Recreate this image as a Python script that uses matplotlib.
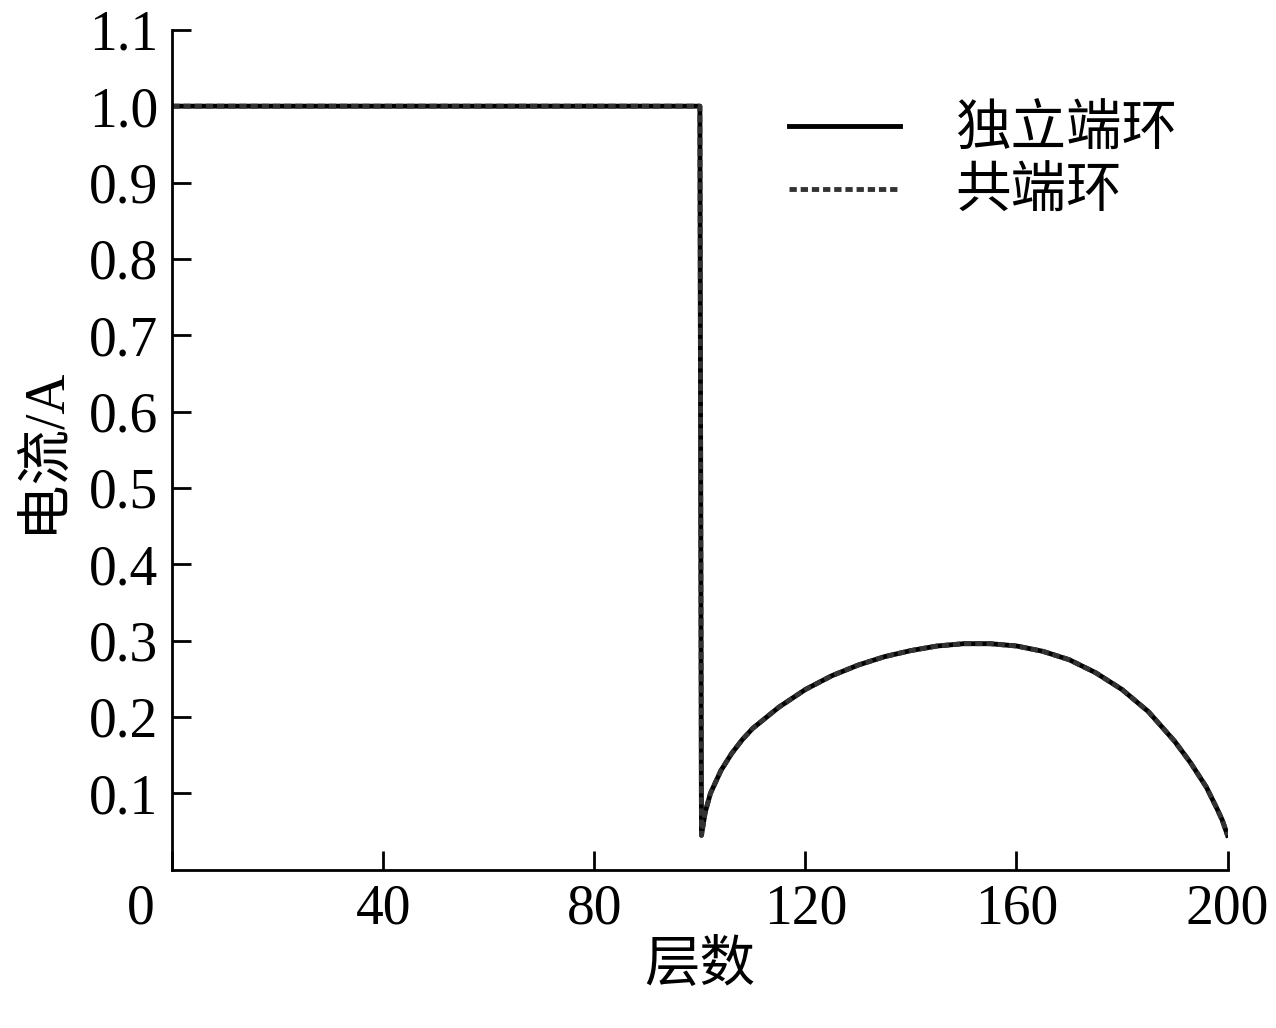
import matplotlib.pyplot as plt
import matplotlib.transforms as mtransforms

plt.rcParams['font.family'] = ['Liberation Serif', 'Noto Sans CJK SC']

# 层数 vs 电流
layers = [0, 20, 40, 60, 80, 100, 100.3, 101, 102, 104, 106, 108, 110, 115, 120, 125, 130,
          135, 140, 145, 150, 155, 160, 165, 170, 175, 180, 185, 190, 193, 196, 198, 199, 200]
current = [1.0, 1.0, 1.0, 1.0, 1.0, 1.0, 0.045, 0.075, 0.1, 0.13, 0.152, 0.17, 0.185, 0.213,
           0.236, 0.254, 0.268, 0.279, 0.287, 0.293, 0.296, 0.296, 0.293, 0.286, 0.275, 0.258,
           0.236, 0.207, 0.168, 0.14, 0.108, 0.08, 0.065, 0.045]
current_shared = list(current)

fig = plt.figure(figsize=(12.76, 10.28), dpi=100)
ax = fig.add_axes([0.135, 0.154, 0.827, 0.817])
ax.plot(layers, current, color='black', lw=3.5, label='独立端环')
ax.plot(layers, current_shared, color='#333333', lw=3.5, ls=(0, (1.5, 0.8)), label='共端环')

ax.set_xlim(0, 200)
ax.set_ylim(0, 1.1)
ax.set_xticks([0, 40, 80, 120, 160, 200])
ax.set_yticks([0.1, 0.2, 0.3, 0.4, 0.5, 0.6, 0.7, 0.8, 0.9, 1.0, 1.1])
ax.set_yticklabels(['0.1', '0.2', '0.3', '0.4', '0.5', '0.6', '0.7', '0.8', '0.9', '1.0', '1.1'])
ax.tick_params(direction='in', length=14, width=2, labelsize=40, pad=10)
for s in ['top', 'right']:
    ax.spines[s].set_visible(False)
for s in ['left', 'bottom']:
    ax.spines[s].set_linewidth(2)
# the "0" sits left of the corner in the reference
zero = ax.get_xticklabels()[0]
zero.set_transform(zero.get_transform() + mtransforms.ScaledTranslation(-0.32, 0, fig.dpi_scale_trans))
ax.set_xlabel('层数', fontsize=40, labelpad=4)
ax.set_ylabel('电流/A', fontsize=40, labelpad=14)
ax.legend(loc='upper right', bbox_to_anchor=(1.0, 0.97), frameon=False, fontsize=40,
          handlelength=2.0, handletextpad=1.0, labelspacing=0.2)

fig.savefig('out.png')
